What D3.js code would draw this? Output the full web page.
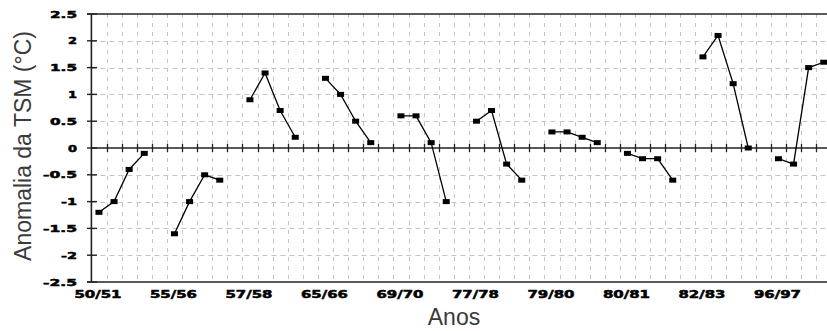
<!DOCTYPE html>
<html>
<head>
<meta charset="utf-8">
<script src="https://cdn.jsdelivr.net/npm/d3@7"></script>
<style>
  html, body { margin: 0; padding: 0; background: #fff; }
  svg { display: block; }
</style>
</head>
<body>
<script>
// ENSO events: label shown under the first year of each four-season run
const eventLabels = ["50/51", "55/56", "57/58", "65/66", "69/70", "77/78", "79/80", "80/81", "82/83", "96/97"];

// SST anomaly (°C) for the four seasons of each event
const anomalies = [
  [-1.2, -1.0, -0.4, -0.1],
  [-1.6, -1.0, -0.5, -0.6],
  [0.9, 1.4, 0.7, 0.2],
  [1.3, 1.0, 0.5, 0.1],
  [0.6, 0.6, 0.1, -1.0],
  [0.5, 0.7, -0.3, -0.6],
  [0.3, 0.3, 0.2, 0.1],
  [-0.1, -0.2, -0.2, -0.6],
  [1.7, 2.1, 1.2, 0.0],
  [-0.2, -0.3, 1.5, 1.6]
];

const yTicks = [2.5, 2, 1.5, 1, 0.5, 0, -0.5, -1, -1.5, -2, -2.5];
const yTickLabels = ["2.5", "2", "1.5", "1", "0.5", "0", "-0.5", "-1", "-1.5", "-2", "-2.5"];

const W = 827, H = 331;
const slotsPerEvent = 5;               // four seasons plus one empty slot
const nSlots = eventLabels.length * slotsPerEvent;
const plotLeft = 91.4, plotTop = 14, plotBottom = 282, slotStep = 15.1;

const svg = d3.select("body").append("svg")
  .attr("width", W).attr("height", H)
  .style("background", "#fff");

const x = d3.scaleBand().domain(d3.range(nSlots))
  .range([plotLeft, plotLeft + nSlots * slotStep]).paddingInner(0).paddingOuter(0);
const y = d3.scaleLinear().domain([-2.5, 2.5]).range([plotBottom, plotTop]);
const bw = x.bandwidth();
const cx = i => x(i) + bw / 2;

// grid
const grid = svg.append("g").attr("stroke", "#c4c4c4").attr("stroke-width", 1);
grid.selectAll("line.v").data(d3.range(1, nSlots)).join("line")
  .attr("x1", i => Math.round(x(i)) + 0.5).attr("x2", i => Math.round(x(i)) + 0.5)
  .attr("y1", plotTop).attr("y2", plotBottom)
  .attr("stroke-dasharray", "4,5");
grid.selectAll("line.h").data(yTicks.filter(v => v !== 0 && Math.abs(v) !== 2.5)).join("line")
  .attr("x1", plotLeft).attr("x2", W)
  .attr("y1", d => Math.round(y(d)) + 0.5).attr("y2", d => Math.round(y(d)) + 0.5)
  .attr("stroke-dasharray", "5,4");

// frame: top border, bottom axis, left axis
const axisCol = "#222";
svg.append("line").attr("x1", 87).attr("x2", W).attr("y1", y(2.5)).attr("y2", y(2.5))
  .attr("stroke", axisCol).attr("stroke-width", 1.4);
svg.append("line").attr("x1", 87).attr("x2", W).attr("y1", y(-2.5)).attr("y2", y(-2.5))
  .attr("stroke", axisCol).attr("stroke-width", 1.4);
svg.append("line").attr("x1", plotLeft).attr("x2", plotLeft).attr("y1", y(2.5)).attr("y2", y(-2.5))
  .attr("stroke", axisCol).attr("stroke-width", 1.6);

// zero line with slot ticks
svg.append("line").attr("x1", plotLeft).attr("x2", W).attr("y1", y(0)).attr("y2", y(0))
  .attr("stroke", axisCol).attr("stroke-width", 1.6);
svg.append("g").selectAll("line").data(d3.range(1, nSlots)).join("line")
  .attr("x1", i => Math.round(x(i)) + 0.5).attr("x2", i => Math.round(x(i)) + 0.5)
  .attr("y1", y(0) - 4).attr("y2", y(0) + 4)
  .attr("stroke", axisCol).attr("stroke-width", 1.3);

// y ticks crossing the left axis
svg.append("g").selectAll("line").data(yTicks).join("line")
  .attr("x1", 87).attr("x2", 97)
  .attr("y1", d => y(d)).attr("y2", d => y(d))
  .attr("stroke", axisCol).attr("stroke-width", 1.4);

// y tick labels: heavy, wide bitmap-style digits
const charW = c => c === "." ? 8 : c === "-" ? 7 : 10;
svg.append("g").selectAll("text").data(yTicks).join("text")
  .attr("x", 77).attr("y", d => y(d) + 3.5)
  .attr("text-anchor", "end")
  .attr("font-family", "DejaVu Sans, sans-serif")
  .attr("font-weight", "bold").attr("font-size", 9)
  .attr("fill", "#000").attr("stroke", "#000").attr("stroke-width", 0.5)
  .attr("textLength", (d, i) => d3.sum(yTickLabels[i].split(""), charW) - 1)
  .attr("lengthAdjust", "spacingAndGlyphs")
  .text((d, i) => yTickLabels[i]);

// x labels under the first season of each event
svg.append("g").selectAll("text").data(eventLabels).join("text")
  .attr("x", (d, k) => cx(k * slotsPerEvent) - 1)
  .attr("y", 298)
  .attr("text-anchor", "middle")
  .attr("font-family", "DejaVu Sans, sans-serif")
  .attr("font-weight", "bold").attr("font-size", 10)
  .attr("fill", "#000").attr("stroke", "#000").attr("stroke-width", 0.5)
  .attr("textLength", 47)
  .attr("lengthAdjust", "spacingAndGlyphs")
  .text(d => d);

// series: one connected run per event
const line = d3.line().x(d => cx(d.i)).y(d => y(d.v));
const runs = anomalies.map((vals, k) => vals.map((v, j) => ({ i: k * slotsPerEvent + j, v })));

const plot = svg.append("g");
plot.selectAll("path").data(runs).join("path")
  .attr("d", line)
  .attr("fill", "none").attr("stroke", "#000").attr("stroke-width", 1.3);
plot.selectAll("rect").data(runs.flat()).join("rect")
  .attr("x", d => cx(d.i) - 3.5).attr("y", d => y(d.v) - 2.5)
  .attr("width", 7).attr("height", 5)
  .attr("fill", "#000");

// axis titles
svg.append("text")
  .attr("transform", `translate(31,146) rotate(-90)`)
  .attr("text-anchor", "middle")
  .attr("font-family", "Liberation Sans, Arial, sans-serif")
  .attr("font-size", 23)
  .attr("fill", "#3a3a3a")
  .text("Anomalia da TSM (°C)");
svg.append("text")
  .attr("x", 454).attr("y", 325)
  .attr("text-anchor", "middle")
  .attr("font-family", "Liberation Sans, Arial, sans-serif")
  .attr("font-size", 23)
  .attr("fill", "#3a3a3a")
  .text("Anos");
</script>
</body>
</html>
